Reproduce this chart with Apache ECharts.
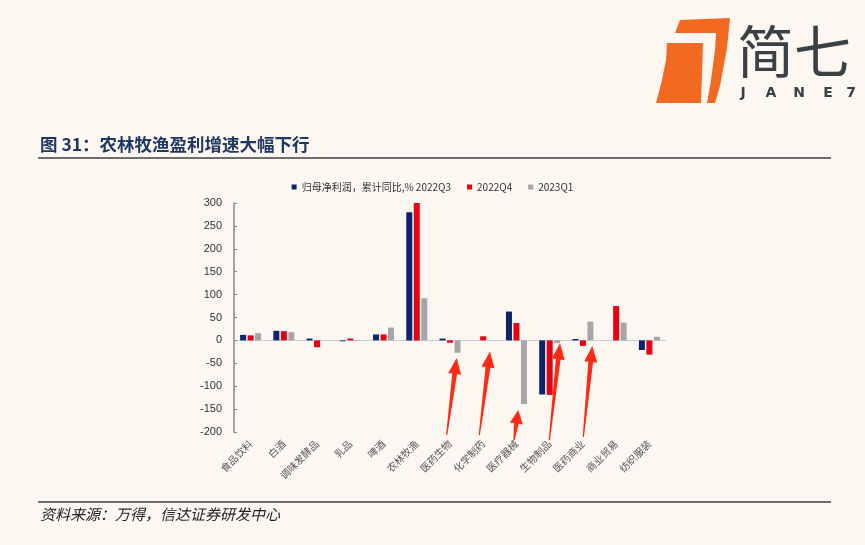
<!DOCTYPE html>
<html><head><meta charset="utf-8">
<script src="https://cdn.jsdelivr.net/npm/echarts@6/dist/echarts.min.js"></script>
<style>html,body{margin:0;padding:0;background:#fdf7f1;}#c{width:865px;height:545px;}</style>
</head><body><div id="c"></div>
<script>
const categories = ['食品饮料','白酒','调味发酵品','乳品','啤酒','农林牧渔','医药生物','化学制药','医疗器械','生物制品','医药商业','商业贸易','纺织服装'];
const seriesNames = ['归母净利润，累计同比,% 2022Q3','2022Q4','2023Q1'];
const q3_2022 = [12, 21, 4, -2, 13, 280, 4, 0, 63, -118, 3, 0, -21];
const q4_2022 = [11, 20, -15, 4, 13, 300, -5, 9, 38, -119, -12, 75, -31];
const q1_2023 = [16, 18, 0, 1, 28, 92, -27, 0, -139, -6, 41, 39, 8];
const yTicks = {min: -200, max: 300, interval: 50};
const colors = ['#0a2470', '#e60012', '#a6a6a6'];
const arrows = [[446.7,435,456.7,358],[479.3,435,490,351.5],[514,440,518.3,410],[549.3,440,560,343.3],[583.3,437,592.3,346]];

function arrowPoly(x0,y0,x1,y1){
  const dx=x1-x0, dy=y1-y0, L=Math.hypot(dx,dy), ux=dx/L, uy=dy/L, nx=-uy, ny=ux;
  const h=Math.min(16, L*0.45), bx=x1-ux*h, by=y1-uy*h;
  const tw=0.6, sw=2.4, hw=6.5;
  return [[x0+nx*tw,y0+ny*tw],[bx+nx*sw,by+ny*sw],[bx+nx*hw,by+ny*hw],[x1,y1],[bx-nx*hw,by-ny*hw],[bx-nx*sw,by-ny*sw],[x0-nx*tw,y0-ny*tw]];
}
const graphics = [
  {type:'text', left:40, top:136, style:{text:'图 31：农林牧渔盈利增速大幅下行', font:'bold 17.5px "Noto Sans CJK SC"', fill:'#1f3864'}},
  {type:'line', shape:{x1:38,y1:158,x2:831,y2:158}, style:{stroke:'#6e6e6e', lineWidth:2}},
  {type:'line', shape:{x1:38,y1:502,x2:831,y2:502}, style:{stroke:'#6e6e6e', lineWidth:2}},
  {type:'text', left:40, top:507, style:{text:'资料来源：万得，信达证券研发中心', font:'italic 15px "Noto Sans CJK SC"', fill:'#222'}},
  // logo
  {type:'polygon', shape:{points:[[680,20],[730,18],[727,48],[720,86],[715,103],[707,103],[711,80],[715,50],[716,33],[675,33]]}, style:{fill:'#f26a21'}},
  {type:'polygon', shape:{points:[[667,43],[703,43],[701,103],[656,103],[662,80],[666,60]]}, style:{fill:'#f26a21'}},
  {type:'text', left:737, top:23, style:{text:'简七', font:'normal 57px "Noto Sans CJK SC"', fill:'#3b4045'}},
];
['J','A','N','E','7'].forEach((ch,i)=>{
  graphics.push({type:'text', x:[743,771,799,828,851][i], y:93, style:{text:ch, font:'bold 14px "DejaVu Sans"', fill:'#3b4045', align:'center', verticalAlign:'middle'}});
});
arrows.forEach(a=>graphics.push({type:'polygon', z:100, shape:{points:arrowPoly(...a)}, style:{fill:'#ff2a14'}}));

const chart = echarts.init(document.getElementById('c'));
chart.setOption({
  backgroundColor:'#fdf7f1',
  animation:false,
  color: colors,
  legend:{top:177, left:'center', itemWidth:5, itemHeight:5, itemGap:16, icon:'rect',
    textStyle:{fontSize:10, color:'#333', fontFamily:'Noto Sans CJK SC'}},
  grid:{left:234, right:199, top:203, bottom:113},
  xAxis:{type:'category', data:categories,
    axisLine:{onZero:true, lineStyle:{color:'#c8d0de', width:1}},
    axisTick:{show:false},
    axisLabel:{rotate:45, fontSize:10, color:'#555', margin:10, interval:0, fontFamily:'Noto Sans CJK SC'}},
  yAxis:{type:'value', min:yTicks.min, max:yTicks.max, interval:yTicks.interval,
    axisLine:{show:true, lineStyle:{color:'#888', width:1.5}},
    axisTick:{show:true, inside:true, length:3, lineStyle:{color:'#888'}},
    splitLine:{show:false},
    axisLabel:{fontSize:11, color:'#333', margin:12, fontFamily:'Liberation Sans'}},
  series:[
    {name:seriesNames[0], type:'bar', data:q3_2022, barWidth:6, barGap:'25%'},
    {name:seriesNames[1], type:'bar', data:q4_2022, barWidth:6, barGap:'25%'},
    {name:seriesNames[2], type:'bar', data:q1_2023, barWidth:6, barGap:'25%'}
  ],
  graphic: graphics
});
</script></body></html>
